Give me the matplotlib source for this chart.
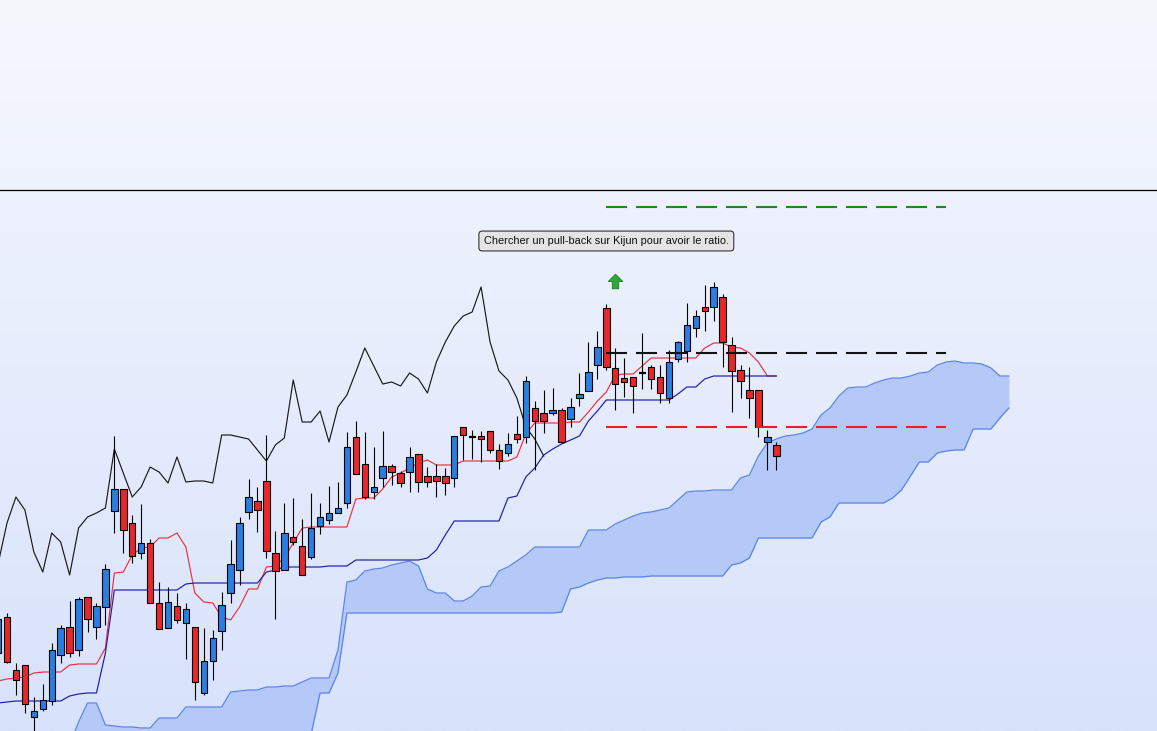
import numpy as np
import matplotlib
matplotlib.use("Agg")
import matplotlib.pyplot as plt
from matplotlib.path import Path

# prix en points, bougies de l'indice -1 a 86
opens = [78, 114, 61, 66, 14, 22, 30, 76, 104, 81,
         134, 104, 124, 220, 242, 208, 178, 188, 128, 103,
         125, 108, 104, 38, 70, 100, 138, 161, 219, 230,
         250, 178, 161, 194, 185, 174, 205, 211, 218, 228,
         294, 267, 239, 253, 265, 258, 259, 277, 255, 255,
         255, 253, 304, 294, 295, 300, 281, 278, 297, 294,
         323, 318, 318, 321, 312, 333, 340, 366, 423, 363,
         353, 354, 358, 364, 354, 333, 372, 380, 403, 424,
         424, 434, 386, 361, 341, 341, 289, 286]
highs = [121, 118, 68, 66, 34, 47, 88, 106, 130, 134,
         134, 128, 167, 295, 242, 216, 227, 192, 149, 144,
         138, 128, 104, 103, 101, 139, 191, 214, 252, 244,
         296, 200, 228, 233, 212, 238, 228, 245, 249, 299,
         310, 299, 284, 300, 267, 260, 284, 277, 264, 267,
         263, 295, 304, 301, 300, 300, 287, 298, 315, 355,
         330, 341, 343, 323, 333, 358, 389, 400, 427, 383,
         373, 354, 398, 366, 366, 381, 390, 428, 421, 446,
         449, 437, 394, 366, 364, 341, 301, 289]
lows = [71, 68, 36, 18, -5, 20, 26, 68, 74, 75,
        99, 92, 106, 198, 178, 168, 172, 128, 102, 103,
        108, 72, 31, 36, 51, 81, 128, 146, 212, 199,
        173, 112, 161, 186, 156, 172, 197, 207, 218, 223,
        257, 232, 232, 244, 246, 244, 239, 239, 244, 234,
        236, 244, 271, 272, 269, 278, 262, 275, 288, 288,
        261, 298, 316, 288, 304, 325, 340, 352, 361, 321,
        334, 318, 342, 342, 328, 328, 369, 369, 394, 400,
        410, 364, 319, 333, 313, 294, 261, 261]
closes = [112, 69, 51, 27, 20, 31, 81, 103, 78, 132,
          112, 125, 162, 242, 201, 175, 188, 128, 102, 129,
          111, 122, 49, 70, 93, 126, 167, 208, 234, 221,
          180, 160, 198, 189, 156, 203, 214, 218, 223, 284,
          257, 234, 244, 265, 259, 248, 274, 249, 249, 250,
          248, 295, 296, 294, 292, 281, 270, 287, 292, 350,
          310, 310, 321, 289, 324, 337, 359, 384, 364, 347,
          349, 345, 358, 352, 338, 369, 389, 406, 415, 420,
          444, 389, 360, 350, 333, 304, 294, 275]

tenkan = [50, 52, 53, 54, 58, 59, 59, 59, 66, 67,
          67, 67, 83, 158, 159, 176, 183, 184, 193, 193,
          198, 184, 138, 129, 128, 114, 111, 124, 142, 142,
          164, 165, 173, 188, 203, 204, 204, 204, 204, 204,
          232, 233, 233, 242, 254, 258, 263, 268, 271, 266,
          266, 266, 270, 270, 270, 270, 270, 270, 274, 297,
          308, 308, 308, 308, 309, 309, 319, 330, 339, 356,
          357, 357, 365, 373, 373, 373, 373, 373, 373, 383,
          388, 388, 384, 383, 378, 369, 355, 355]
kijun = [28, 29, 30, 30, 30, 30, 30, 30, 35, 37,
         38, 38, 78, 141, 141, 141, 141, 141, 141, 141,
         141, 147, 148, 148, 148, 148, 148, 148, 148, 148,
         159, 161, 164, 164, 164, 164, 164, 165, 165, 165,
         171, 171, 171, 171, 171, 171, 171, 171, 173, 181,
         196, 210, 210, 210, 210, 210, 210, 233, 235, 254,
         263, 276, 282, 287, 291, 295, 310, 320, 331, 331,
         331, 331, 331, 331, 331, 331, 337, 344, 344, 352,
         355, 355, 355, 355, 355, 355, 355, 355]
# chikou : indices -1 a 60
chikou = [167, 208, 234, 221, 179, 159, 198, 189, 156, 203,
          214, 218, 223, 282, 258, 234, 244, 264, 259, 248,
          274, 249, 250, 250, 248, 296, 296, 294, 292, 281,
          270, 286, 293, 351, 309, 309, 320, 289, 324, 336,
          359, 383, 365, 347, 349, 345, 358, 352, 338, 369,
          389, 405, 415, 419, 444, 389, 360, 351, 333, 304,
          292, 275]
# senkou A / B : indices -1 a 112
senkou_a = [-20, -20, -20, -20, -20, -20, -20, -20, -14, 9,
            28, 28, 6, 5, 4, 4, 3, 3, 13, 13,
            13, 24, 24, 24, 24, 24, 39, 40, 41, 41,
            44, 44, 45, 45, 49, 53, 53, 53, 81, 149,
            151, 160, 162, 163, 166, 168, 170, 165, 142, 138,
            138, 130, 130, 135, 144, 145, 160, 164, 170, 176,
            184, 184, 184, 184, 184, 184, 201, 201, 201, 207,
            211, 215, 218, 219, 221, 223, 231, 239, 240, 240,
            241, 241, 241, 253, 256, 275, 288, 292, 295, 296,
            298, 302, 316, 323, 335, 343, 344, 344, 348, 351,
            353, 353, 355, 358, 359, 366, 369, 370, 368, 368,
            367, 363, 355, 355]
senkou_b = [-10, -10, -10, -10, -10, -10, -10, -10, -10, -10,
            -10, -10, -10, -10, -10, -10, -10, -10, -10, -10,
            -10, -10, -10, -10, -10, -10, -10, -10, -10, -10,
            -10, -10, -10, -10, -10, -3, 38, 38, 58, 118,
            118, 118, 118, 118, 118, 118, 118, 118, 118, 118,
            118, 118, 118, 118, 118, 118, 118, 118, 118, 118,
            118, 118, 118, 119, 142, 144, 148, 151, 153, 153,
            154, 154, 154, 155, 155, 155, 155, 155, 155, 155,
            155, 155, 166, 168, 173, 193, 193, 193, 193, 193,
            193, 193, 209, 214, 228, 228, 228, 228, 228, 228,
            233, 241, 255, 269, 269, 278, 280, 281, 281, 302,
            302, 302, 313, 323]

# niveaux traces (objectif, entree, stop) de la bougie 67 a 105
level_start, level_end = 67, 105
level_tp = 524
level_entry = 378
level_sl = 304
note_text = "Chercher un pull-back sur Kijun pour avoir le ratio."
note_x, note_y = 67, 490
signal_x, signal_y = 68, 450

bull_col = '#2a7de1'
bear_col = '#e8262b'

fig = plt.figure(figsize=(11.57, 7.31), dpi=100)

# fond degrade
bg = fig.add_axes([0, 0, 1, 1], zorder=-5)
top_c = np.array([246, 248, 254]) / 255
bot_c = np.array([216, 226, 251]) / 255
t = np.linspace(0, 1, 256)[:, None]
grad = top_c[None, :] * (1 - t) + bot_c[None, :] * t
bg.imshow(grad[:, None, :], aspect='auto', extent=[0, 1, 0, 1])
bg.axis('off')

main_h = 541 / 731
ax = fig.add_axes([0, 0, 1, main_h])
ax.set_facecolor('none')
top = fig.add_axes([0, main_h, 1, 1 - main_h])
top.set_facecolor('none')
top.axis('off')

n = len(opens)
idx = np.arange(-1, n - 1)
o = np.array(opens, float)
h = np.array(highs, float)
l = np.array(lows, float)
c = np.array(closes, float)

# nuage
xs = np.arange(-1, len(senkou_a) - 1)
sa = np.array(senkou_a, float)
sb = np.array(senkou_b, float)
ax.fill_between(xs, sa, sb, color='#b5c9f8', lw=0, zorder=1)
ax.plot(xs, sa, color='#5a85e6', lw=0.9, zorder=2)
ax.plot(xs, sb, color='#5a85e6', lw=0.9, zorder=2)

# lignes ichimoku
ax.plot(idx, tenkan, color='#e8323c', lw=0.85, zorder=3)
ax.plot(idx, kijun, color='#1c1caa', lw=0.85, zorder=3)
ax.plot(np.arange(-1, len(chikou) - 1), chikou, color='#1a1a1a', lw=0.85, zorder=3)

# bougies
ax.vlines(idx, l, h, color='black', lw=0.8, zorder=4)
up = c > o
down = c < o
doji = c == o
ax.bar(idx[up], (c - o)[up], bottom=o[up], width=0.72,
       color=bull_col, edgecolor='black', lw=0.8, zorder=5)
ax.bar(idx[down], (o - c)[down], bottom=c[down], width=0.72,
       color=bear_col, edgecolor='black', lw=0.8, zorder=5)
ax.hlines(o[doji], idx[doji] - 0.4, idx[doji] + 0.4, color='black', lw=1.6, zorder=5)

# niveaux
for lvl, col in [(level_tp, '#1e8a1e'), (level_entry, '#111111'), (level_sl, '#e8202a')]:
    ax.plot([level_start, level_end], [lvl, lvl], color=col, lw=1.5,
            dashes=(10.1, 4.3), zorder=6)

# fleche de signal
arrow = Path([(-0.22, -0.5), (0.22, -0.5), (0.22, 0.0), (0.5, 0.0), (0.0, 0.5),
              (-0.5, 0.0), (-0.22, 0.0), (-0.22, -0.5)])
ax.plot([signal_x], [signal_y], marker=arrow, ms=10.5, mfc='#2fa838',
        mec='#1d7a24', mew=0.6, zorder=7)

ax.text(note_x, note_y, note_text, ha='center', va='center', fontsize=7.9,
        family=['Liberation Sans', 'DejaVu Sans'], color='#111111', zorder=8,
        bbox=dict(boxstyle='round,pad=0.45,rounding_size=0.3', fc='#e4e4e4',
                  ec='#333333', lw=0.8))

ax.set_xlim(-0.783, 128.56)
ax.set_ylim(0, 541)
ax.set_xticks([])
ax.set_yticks([])
for s in ['left', 'right', 'bottom']:
    ax.spines[s].set_visible(False)
ax.spines['top'].set_color('black')
ax.spines['top'].set_linewidth(0.9)

fig.savefig('out.png', dpi=100)
